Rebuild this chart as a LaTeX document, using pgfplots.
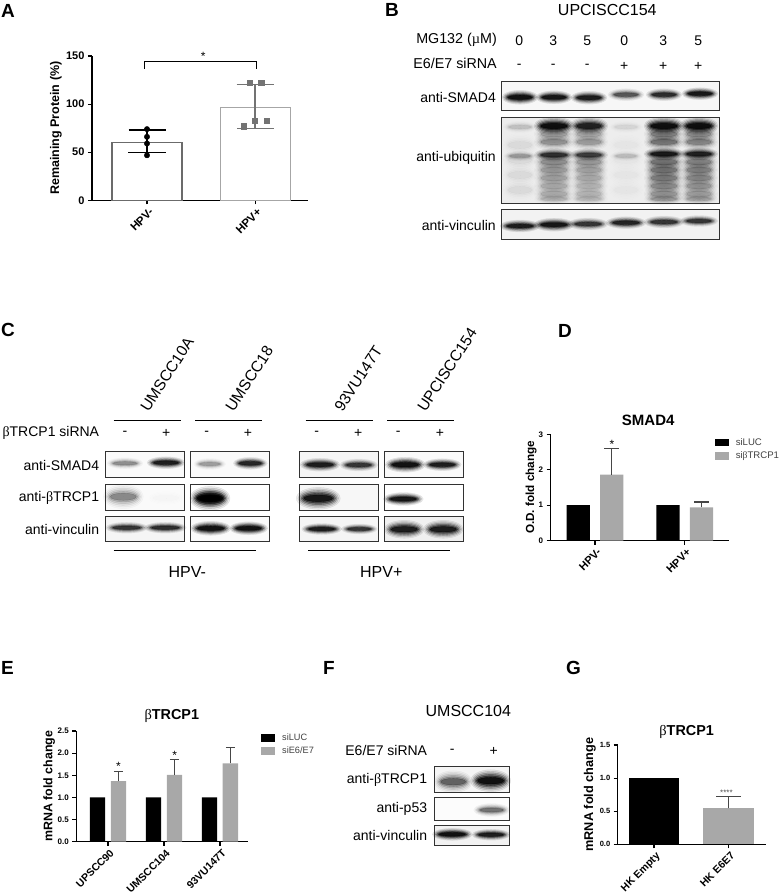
\documentclass[border=0pt]{standalone}
\usepackage{fontspec}
\setmainfont{Liberation Sans}
\newfontfamily\sym{Liberation Serif}
\usepackage{pgfplots}
\usepackage{pgfplotstable}
\pgfplotsset{compat=1.18}

\newcommand{\fs}[1]{\fontsize{#1bp}{1.15\dimexpr#1bp\relax}\selectfont}
\newcommand{\bet}{{\sym\mdseries β}}
\definecolor{bargray}{RGB}{168,168,168}
\definecolor{errgray}{RGB}{70,70,70}
\definecolor{blotline}{RGB}{50,50,50}

% bands in pixel coordinates: centre, half width, half height, darkness
\pgfplotstableread{
x y w h d
520 97.3 18 7 1
554 97.3 18 6.5 .95
589 97.7 18 6.5 .9
626 94.7 18 6 .6
664 94.7 18 6 .8
700 93.7 18 6 .95
520 226 20 6 .9
554 224.7 20 6.5 .95
588 224 20 6 .75
626 222.7 20 6 .85
664 222 20 6 .75
699 221 19 5.5 .75
520 127 17 6 .2
520 156 16 5 .3
520 145 18 12 .1
520 160 18 12 .1
520 175 18 12 .1
520 190 18 12 .1
554 126 20 9 1
554 134 20 10 .3
554 142 20 9 .35
554 155 20 6.5 .75
554 162 20 10 .35
554 170 20 10 .3
554 178 20 10 .28
554 186 20 10 .25
554 194 20 10 .25
554 199 20 6 .2
589 126 19 9 .85
589 134 19 10 .27
589 142 19 9 .32
589 155 19 6.5 .68
589 162 19 10 .32
589 170 19 10 .27
589 178 19 10 .25
589 186 19 10 .22
589 194 19 10 .22
589 199 19 6 .18
626 127 17 6 .12
626 156 16 5 .2
626 145 18 12 .06
626 160 18 12 .06
626 175 18 12 .06
626 190 18 12 .06
664 126 20 9 1
664 134 20 10 .4
664 142 20 9 .45
664 154 20 6.5 .9
664 162 20 10 .45
664 170 20 10 .42
664 178 20 10 .4
664 186 20 10 .35
664 194 20 10 .32
664 199 20 6 .28
699 126 19 9 1
699 134 19 10 .36
699 142 19 9 .4
699 154 19 6.5 .85
699 162 19 10 .4
699 170 19 10 .38
699 178 19 10 .36
699 186 19 10 .32
699 194 19 10 .29
699 199 19 6 .25
125 463.3 18 5.5 .4
166 462.7 19 6 .9
209.7 464 16 5.5 .35
250.3 463.3 17 6 .85
320 464.7 20 6.5 .9
358.7 465 19 6 .75
405.3 464.7 20 7.5 1
442.3 464.7 19 6 .9
123.3 496.7 20 12 .42
166 498 20 9 .04
210 498.3 20 12 1
210 498.3 15 8 1
318.3 498.3 22 11 .95
403.3 499 20 6.5 .95
126.7 527.7 21 5.5 .75
165.3 527.7 21 5.5 .8
210.7 528.3 20 7 1
248.7 528.3 19 6.5 1
321.7 529 20 5.5 .9
359.3 529 18 5 .75
404.3 529.3 20 9 .9
443.3 529.3 20 9 .9
453.3 781.7 19 11 .55
490.7 780.7 20 11 1
491.7 810 18 6.5 .5
452.3 834.3 20 6 1
491 834.7 19 5.5 .9
}\bands

\pgfplotsset{
  panel/.style={
    scale only axis, clip=false,
    axis lines=left, axis line style={-, line width=1.3bp, black},
    ymin=0,
    tick align=outside, major tick length=4bp,
    tick style={black, line width=1.1bp},
    /pgf/number format/assume math mode=true,
    x tick label style={rotate=45, anchor=north east, inner sep=1pt, yshift=-2bp},
    enlargelimits=false,
    every axis title shift=0pt,
  },
  whisker/.style={
    error bars/y dir=plus, error bars/y explicit,
    error bars/error bar style={errgray, line width=1.2bp},
    error bars/error mark options={rotate=90, errgray, mark size=#1, line width=1.1bp},
  },
  bars/.style={ybar, bar width=#1, draw=none},
  legend small/.style={
    legend cell align=left,
    legend style={draw=none, fill=none, inner sep=0pt, row sep=1.2bp, anchor=north west,
      font=\fs{#1}\color{black!75}},
    legend image code/.code={\fill[##1] (0bp,-3.8bp) rectangle (14.3bp,3.8bp);},
  },
}

\begin{document}
\begin{tikzpicture}

% blot backgrounds
\begin{scope}[x=1bp,y=-1bp]
\foreach \xa/\ya/\xb/\yb/\g in {
  501.3/81/719.3/110.7/3, 501.3/117/719.3/203.7/7, 501.3/209.7/719.3/239.3/5,
  105.3/451.7/184.3/477.7/2, 190/451.7/269/477.7/2, 299.3/451.7/378.3/477.7/4, 384/451.7/463.3/477.7/2,
  105.3/484.3/184.3/510.3/2, 190/484.3/269/510.3/0, 299.3/484.3/378.3/510.3/3, 384/484.3/463.3/510.3/0,
  105.3/516/184.3/541.7/4, 190/516/269/541.7/2, 299.3/516/378.3/541.7/4, 384/516/463.3/541.7/6,
  434/766.7/509.3/792.3/4, 434/797.3/509.3/820.3/1, 434/825.3/509.3/845.3/5}
  \fill[black!\g] (\xa,\ya) rectangle (\xb,\yb);
\end{scope}

% blots B, C, F: each band is a small stack of translucent ellipses
\begin{axis}[at={(0bp,-894bp)}, anchor=south west, width=780bp, height=894bp,
  scale only axis, hide axis, clip=false,
  xmin=0, xmax=780, ymin=0, ymax=894, y dir=reverse]
\addplot[scatter, only marks, mark=*, mark size=0pt,
  visualization depends on={\thisrow{w}\as\bw},
  visualization depends on={\thisrow{h}\as\bh},
  visualization depends on={\thisrow{d}\as\bd},
  scatter/@pre marker code/.code={%
    \pgfmathsetmacro\dd{\bd^1.4}%
    \foreach \rr/\aa in {1/.08,.86/.12,.72/.2,.58/.3,.44/.45,.3/.7}{%
      \pgfmathsetmacro\rx{(.5+.5*\rr)*\bw}%
      \pgfmathsetmacro\ry{\rr*\bh}%
      \pgfmathsetmacro\oo{\aa*\dd}%
      \fill[black,opacity=\oo] (0pt,0pt) ellipse [x radius=\rx bp, y radius=\ry bp];
    }},
  scatter/@post marker code/.code={}]
  table[x=x,y=y]{\bands};
\end{axis}

% A
\begin{axis}[panel, at={(92bp,-200.3bp)}, anchor=south west, width=216bp, height=144.3bp,
  xmin=0.491, xmax=2.49, ymax=150,
  ytick={0,50,100,150}, xtick={1,2}, xticklabels={HPV-,HPV+},
  y tick label style={font=\fs{11}\bfseries},
  x tick label style={font=\fs{11.5}\bfseries},
  ylabel={\fs{12.5}\bfseries Remaining Protein (\%)},
  y label style={at={(axis description cs:-0.167,0.5)},anchor=center}]
\addplot[ybar, bar width=70bp, fill=white, draw=black!58, line width=1.1bp] coordinates {(1,60.5)};
\addplot[ybar, bar width=70bp, fill=white, draw=black!35, line width=1.1bp] coordinates {(2,96.5)};
\addplot[draw=none, forget plot, error bars/y dir=both, error bars/y explicit,
  error bars/error bar style={black, line width=1.5bp},
  error bars/error mark options={rotate=90, black, mark size=18.5bp, line width=1.5bp}]
  coordinates {(1,60.5) += (0,12.5) -= (0,11)};
\addplot[draw=none, forget plot, error bars/y dir=both, error bars/y explicit,
  error bars/error bar style={black!55, line width=1.5bp},
  error bars/error mark options={rotate=90, black!55, mark size=18.5bp, line width=1.5bp}]
  coordinates {(2,96.5) += (0,24) -= (0,22)};
\addplot[only marks, mark=*, mark size=2.7bp, black] coordinates {(1,74) (1,66) (1,59) (1,46.8)};
\addplot[only marks, mark=square*, mark size=2.6bp, black!55]
  coordinates {(1.948,122.6) (2.056,122.6) (2,82.8) (2.108,82.8) (1.895,77)};
% bracket
\addplot[black, line width=.8bp] coordinates {(.98,136.5) (.98,144.8) (2.015,144.8) (2.015,136.5)};
\node[font=\fs{12}] at (axis cs:1.52,150) {*};
\end{axis}

% D
\begin{axis}[panel, at={(550.7bp,-540.7bp)}, anchor=south west, width=178.6bp, height=106.4bp,
  xmin=0.506, xmax=2.497, ymax=3,
  ytick={0,1,2,3}, xtick={1,2}, xticklabels={HPV-,HPV+},
  y tick label style={font=\fs{8}\bfseries},
  x tick label style={font=\fs{11}\bfseries},
  ylabel={\fs{11.7}\bfseries O.D. fold change},
  y label style={at={(axis description cs:-0.11,0.5)},anchor=center},
  title={\fs{15}\bfseries SMAD4},
  title style={at={(axis description cs:0.546,1.134)},anchor=center},
  legend small=9.6, legend style={at={(0.916,0.985)}}]
\addplot[bars=23.3bp, fill=black] coordinates {(0.813,1) (1.813,1)};
\addlegendentry{\hspace*{5bp}siLUC}
\addplot[bars=23.3bp, fill=bargray, whisker=7.5bp]
  coordinates {(1.187,1.86) +- (0,0.74) (2.187,0.94) +- (0,0.15)};
\addlegendentry{\hspace*{5bp}si\bet TRCP1}
\node[font=\fs{12}] at (axis cs:1.19,2.72) {*};
\end{axis}

% E
\begin{axis}[panel, at={(76.3bp,-841.7bp)}, anchor=south west, width=171.4bp, height=110.7bp,
  xmin=0.434, xmax=3.495, ymax=2.5,
  ytick={0,0.5,1,1.5,2,2.5}, xtick={1,2,3}, xticklabels={UPSCC90,UMSCC104,93VU147T},
  /pgf/number format/fixed, /pgf/number format/fixed zerofill, /pgf/number format/precision=1,
  y tick label style={font=\fs{8}\bfseries},
  x tick label style={font=\fs{10.5}\bfseries},
  ylabel={\fs{12.4}\bfseries mRNA fold change},
  y label style={at={(axis description cs:-0.158,0.5)},anchor=center},
  title={\fs{14.4}\bet{\bfseries TRCP1}},
  title style={at={(axis description cs:0.557,1.135)},anchor=center},
  legend small=9.2, legend style={at={(1.076,0.996)}}]
\addplot[bars=15.3bp, fill=black] coordinates {(0.814,1) (1.814,1) (2.814,1)};
\addlegendentry{\hspace*{5bp}siLUC}
\addplot[bars=15.3bp, fill=bargray, whisker=4.5bp]
  coordinates {(1.186,1.37) +- (0,0.22) (2.186,1.51) +- (0,0.34) (3.186,1.77) +- (0,0.35)};
\addlegendentry{\hspace*{5bp}siE6/E7}
\node[font=\fs{12}] at (axis cs:1.186,1.70) {*};
\node[font=\fs{12}] at (axis cs:2.19,1.95) {*};
\end{axis}

% G
\begin{axis}[panel, at={(617.7bp,-844.3bp)}, anchor=south west, width=148.3bp, height=99.3bp,
  xmin=0.514, xmax=2.5, ymax=1.5,
  ytick={0,0.5,1,1.5}, xtick={1,2}, xticklabels={HK Empty,HK E6E7},
  /pgf/number format/fixed, /pgf/number format/fixed zerofill, /pgf/number format/precision=1,
  y tick label style={font=\fs{7.5}\bfseries},
  x tick label style={font=\fs{10.5}\bfseries},
  ylabel={\fs{12.7}\bfseries mRNA fold change},
  y label style={at={(axis description cs:-0.187,0.5)},anchor=center},
  title={\fs{14.4}\bet{\bfseries TRCP1}},
  title style={at={(axis description cs:0.465,1.134)},anchor=center}]
\addplot[bars=50.5bp, fill=black] coordinates {(1,1)};
\addplot[bars=50.5bp, fill=bargray, whisker=12.5bp] coordinates {(2,0.543) +- (0,0.182)};
\node[font=\fs{8}, text=black!70] at (axis cs:1.97,0.78) {****};
\end{axis}

% blot outlines and all the text around them
\begin{scope}[x=1bp,y=-1bp, every node/.style={inner sep=0pt}]
\foreach \xa/\ya/\xb/\yb in {
  501.3/81/719.3/110.7, 501.3/117/719.3/203.7, 501.3/209.7/719.3/239.3,
  105.3/451.7/184.3/477.7, 190/451.7/269/477.7, 299.3/451.7/378.3/477.7, 384/451.7/463.3/477.7,
  105.3/484.3/184.3/510.3, 190/484.3/269/510.3, 299.3/484.3/378.3/510.3, 384/484.3/463.3/510.3,
  105.3/516/184.3/541.7, 190/516/269/541.7, 299.3/516/378.3/541.7, 384/516/463.3/541.7,
  434/766.7/509.3/792.3, 434/797.3/509.3/820.3, 434/825.3/509.3/845.3}
  \draw[blotline, line width=.8bp] (\xa,\ya) rectangle (\xb,\yb);

% panel letters
\foreach \x/\y/\l in {1/11/A, 385/10/B, 1/330/C, 558/331/D, 1/668/E, 323/668/F, 566/668/G}
  \node[anchor=west, font=\fs{19}\bfseries] at (\x,\y) {\l};

% B
\node[font=\fs{16}] at (607.3,10) {UPCISCC154};
\node[anchor=east, font=\fs{14.3}] at (497,40) {MG132 ({\sym µ}M)};
\node[anchor=east, font=\fs{14.3}] at (497,63) {E6/E7 siRNA};
\foreach \x/\n/\s in {519.3/0/-, 553.3/3/-, 587.3/5/-, 624.3/0/+, 663.3/3/+, 698.3/5/+} {
  \node[font=\fs{14}] at (\x,41) {\n};
  \node[font=\fs{14}] at (\x,66) {\s};
}
\node[anchor=east, font=\fs{14}] at (496,97) {anti-SMAD4};
\node[anchor=east, font=\fs{14}] at (496,158) {anti-ubiquitin};
\node[anchor=east, font=\fs{14}] at (496,225) {anti-vinculin};

% C
\foreach \x/\l in {144/UMSCC10A, 229/UMSCC18, 338/93VU147T, 421/UPCISCC154}
  \node[anchor=west, rotate=57, font=\fs{15.5}] at (\x,410) {\l};
\foreach \xa/\xb in {113.7/180.7, 195.3/262.3, 305.7/372.7, 387/454}
  \draw[line width=.7bp] (\xa,420) -- (\xb,420);
\foreach \x/\s in {125/-, 166.3/+, 206.7/-, 248/+, 316.7/-, 358.3/+, 398.3/-, 440/+}
  \node[font=\fs{14}] at (\x,433.3) {\s};
\node[anchor=east, font=\fs{14}] at (99.3,433) {\bet TRCP1 siRNA};
\node[anchor=east, font=\fs{14}] at (99.3,465) {anti-SMAD4};
\node[anchor=east, font=\fs{14}] at (99.3,497.7) {anti-\bet TRCP1};
\node[anchor=east, font=\fs{14}] at (99.3,529) {anti-vinculin};
\draw[line width=.7bp] (113.7,550.3) -- (255.7,550.3);
\draw[line width=.7bp] (308.3,550.3) -- (450,550.3);
\node[font=\fs{16}] at (187.3,571.7) {HPV-};
\node[font=\fs{16}] at (381.3,571.7) {HPV+};

% F
\node[font=\fs{16}] at (468.3,710.7) {UMSCC104};
\node[anchor=east, font=\fs{14}] at (427.3,750) {E6/E7 siRNA};
\node[font=\fs{14}] at (452.3,751) {-};
\node[font=\fs{14}] at (493.7,751) {+};
\node[anchor=east, font=\fs{14}] at (427.3,780) {anti-\bet TRCP1};
\node[anchor=east, font=\fs{14}] at (427.3,809) {anti-p53};
\node[anchor=east, font=\fs{14}] at (427.3,835) {anti-vinculin};
\end{scope}

\pgfresetboundingbox
\path[use as bounding box] (0bp,0bp) rectangle (780bp,-894bp);
\end{tikzpicture}
\end{document}
